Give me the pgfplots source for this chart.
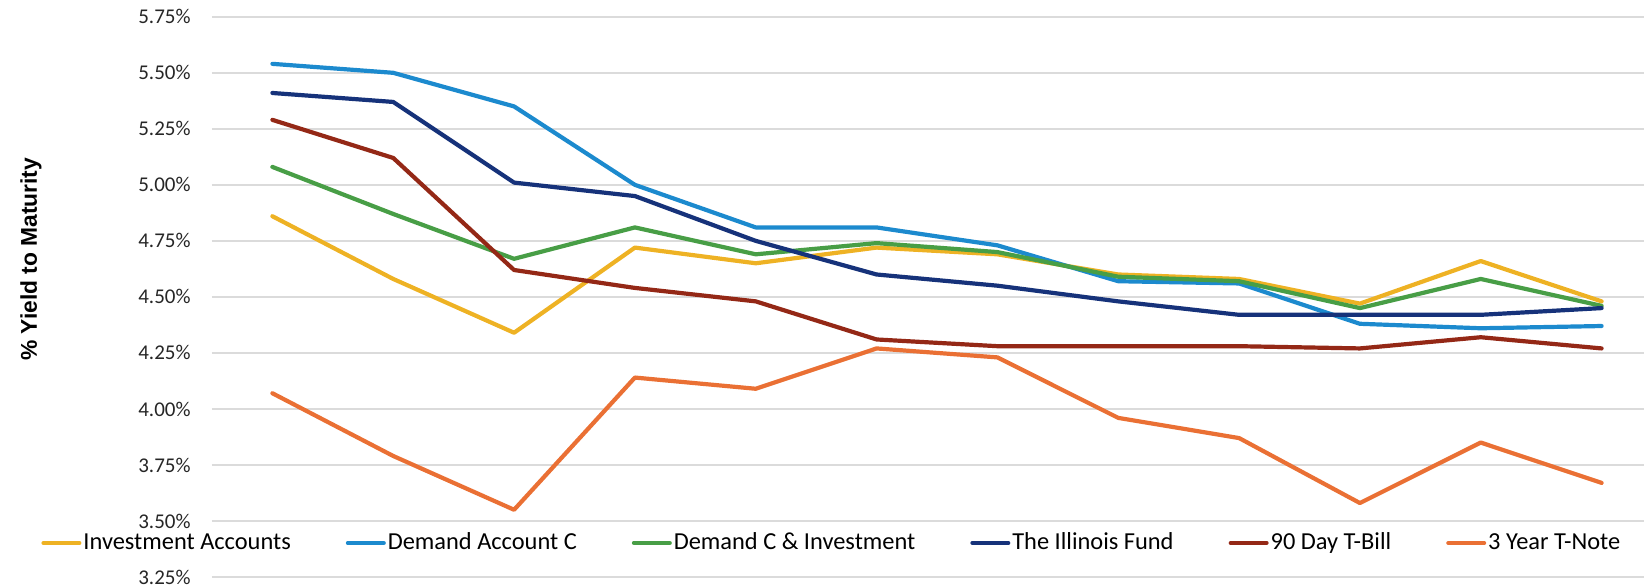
\documentclass[border=0pt]{standalone}
\usepackage{fontspec}
\setmainfont{Carlito}
\newfontfamily\labelfont{Liberation Sans}
\usepackage{pgfplots}
\usepackage{pgfplotstable}
\pgfplotsset{compat=1.18}

\definecolor{invgold}{RGB}{238,178,36}
\definecolor{demblue}{RGB}{28,138,206}
\definecolor{demgreen}{RGB}{72,158,70}
\definecolor{ilnavy}{RGB}{22,50,122}
\definecolor{tbillred}{RGB}{148,40,22}
\definecolor{tnoteorange}{RGB}{234,112,52}

% yields in percent, one row per period
\pgfplotstableread{
x  inv   dac   dci   ilf   tb    tn
1  4.86  5.54  5.08  5.41  5.29  4.07
2  4.58  5.50  4.87  5.37  5.12  3.79
3  4.34  5.35  4.67  5.01  4.62  3.55
4  4.72  5.00  4.81  4.95  4.54  4.14
5  4.65  4.81  4.69  4.75  4.48  4.09
6  4.72  4.81  4.74  4.60  4.31  4.27
7  4.69  4.73  4.70  4.55  4.28  4.23
8  4.60  4.57  4.59  4.48  4.28  3.96
9  4.58  4.56  4.57  4.42  4.28  3.87
10 4.47  4.38  4.45  4.42  4.27  3.58
11 4.66  4.36  4.58  4.42  4.32  3.85
12 4.48  4.37  4.46  4.45  4.27  3.67
}\yields

\begin{document}
\begin{tikzpicture}
\begin{axis}[
    scale only axis,
    width=725pt,
    height=280.1pt,
    xmin=0.5, xmax=12.5,
    ymin=3.25, ymax=5.75,
    xtick=\empty,
    ytick={3.25,3.50,3.75,4.00,4.25,4.50,4.75,5.00,5.25,5.50,5.75},
    yticklabel={\pgfmathprintnumber[fixed,fixed zerofill,precision=2]{\tick}\%},
    /pgf/number format/assume math mode=true,
    yticklabel style={font=\fontsize{10.5}{12}\selectfont, color=black!85, inner sep=0pt, xshift=-10.5pt},
    major tick length=0pt,
    axis line style={draw=none},
    ymajorgrids,
    grid style={black!14, line width=0.8pt},
    ylabel={\labelfont\bfseries \% Yield to Maturity},
    ylabel style={font=\fontsize{11.4}{13}\selectfont, at={(axis description cs:-0.1248,0.567)}, anchor=center},
    title={Kane County Treasurer},
    title style={font=\fontsize{15.4}{18}\selectfont, at={(axis description cs:0.3986,1.0193)}, anchor=base, inner sep=0pt},
    legend columns=6,
    legend cell align=left,
    legend image code/.code={\draw[#1, line width=2pt] (0pt,0pt) -- (18pt,0pt);},
    legend style={draw=none, fill=none, inner sep=0pt,
        at={(axis description cs:-0.1179,0.0607)}, anchor=west,
        font=\fontsize{12.2}{14}\selectfont,
        nodes={inner sep=1pt},
        /tikz/every even column/.append style={column sep=26.5pt}},
    every axis plot/.append style={line width=2.1pt, line join=round, line cap=round},
]
\addplot[invgold] table[x=x, y=inv] {\yields};
\addlegendentry{Investment Accounts}
\addplot[demblue] table[x=x, y=dac] {\yields};
\addlegendentry{Demand Account C}
\addplot[demgreen] table[x=x, y=dci] {\yields};
\addlegendentry{Demand C \& Investment}
\addplot[ilnavy] table[x=x, y=ilf] {\yields};
\addlegendentry{The Illinois Fund}
\addplot[tbillred] table[x=x, y=tb] {\yields};
\addlegendentry{90 Day T-Bill}
\addplot[tnoteorange] table[x=x, y=tn] {\yields};
\addlegendentry{3 Year T-Note}
\end{axis}
% the reference is a crop: title top and right edge of the plot fall outside
\pgfresetboundingbox
\useasboundingbox (-106pt,-5.5pt) rectangle (716pt,288.5pt);
\end{tikzpicture}
\end{document}
